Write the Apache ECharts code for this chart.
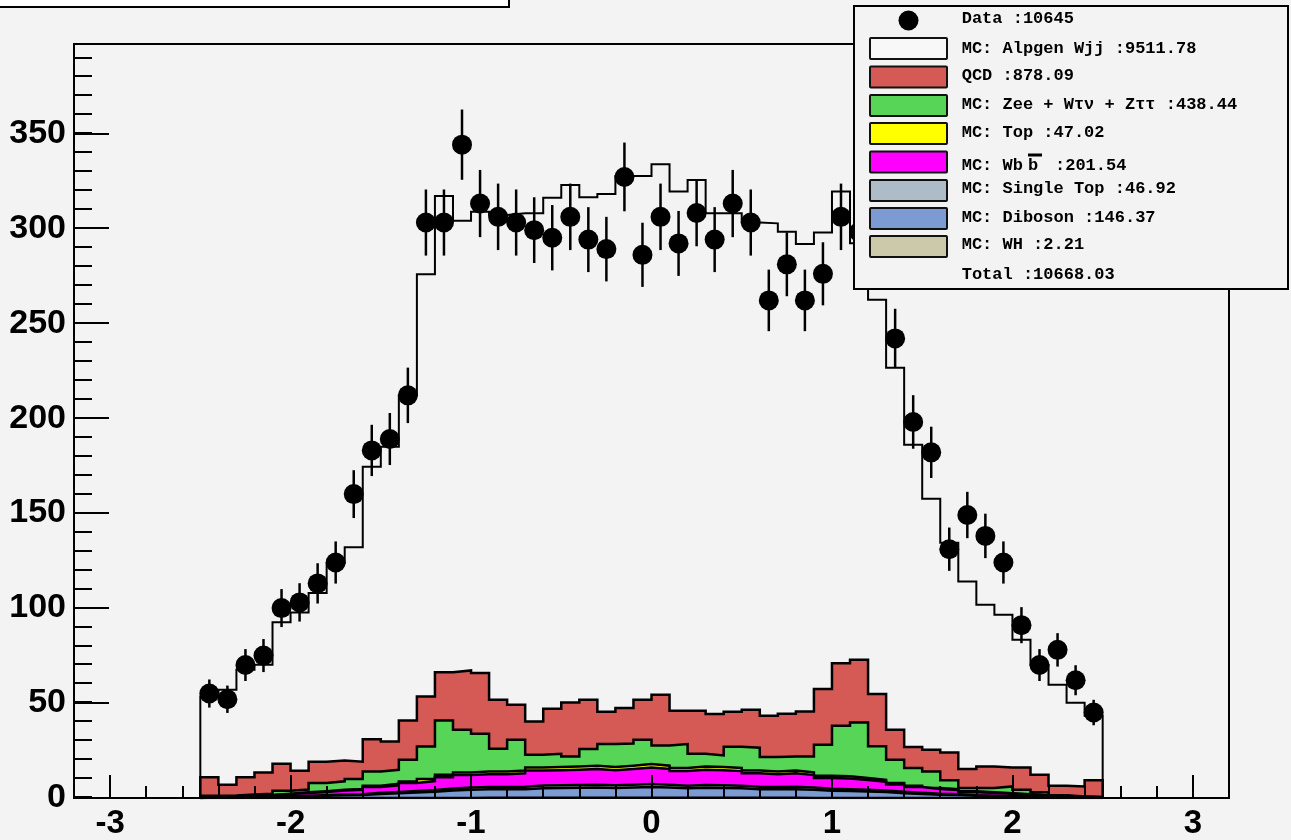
<!DOCTYPE html>
<html><head><meta charset="utf-8">
<script src="https://cdn.jsdelivr.net/npm/echarts@6/dist/echarts.min.js"></script>
<style>html,body{margin:0;padding:0;background:#f3f3f3;}#c{width:1291px;height:840px;}</style>
</head><body><div id="c"></div>
<script>
// ---- data ----
const binEdges = [-2.5,-2.4,-2.3,-2.2,-2.1,-2.0,-1.9,-1.8,-1.7,-1.6,-1.5,-1.4,-1.3,-1.2,-1.1,-1.0,-0.9,-0.8,-0.7,-0.6,-0.5,-0.4,-0.3,-0.2,-0.1,0.0,0.1,0.2,0.3,0.4,0.5,0.6,0.7,0.8,0.9,1.0,1.1,1.2,1.3,1.4,1.5,1.6,1.7,1.8,1.9,2.0,2.1,2.2,2.3,2.4,2.5];
const dataCounts = [55,52,70,75,100,103,113,124,160,183, 189,212,303,303,344,313,306,303,299,295, 306,294,289,327,286,306,292,308,294,313, 303,262,281,262,276,306,298,293,242,198, 182,131,149,138,124,91,70,78,62,45];
const dataErrors = [7.4,7.2,8.4,8.7,10,10.1,10.6,11.1,12.6,13.5, 13.7,14.6,17.4,17.4,18.5,17.7,17.5,17.4,17.3,17.2, 17.5,17.1,17,18.1,16.9,17.5,17.1,17.5,17.1,17.7, 17.4,16.2,16.8,16.2,16.6,17.5,17.3,17.1,15.6,14.1, 13.5,11.4,12.2,11.7,11.1,9.5,8.4,8.8,7.9,6.7];
const wh = [0.01,0.01,0.01,0.01,0.02,0.02,0.03,0.03,0.03,0.04, 0.04,0.05,0.05,0.06,0.06,0.07,0.07,0.07,0.08,0.08, 0.08,0.08,0.08,0.08,0.09,0.08,0.08,0.08,0.08,0.08, 0.07,0.07,0.07,0.06,0.06,0.05,0.05,0.05,0.04,0.03, 0.03,0.02,0.02,0.02,0.01,0.01,0.01,0.01,0.01,0.0];
const diboson = [0.25,0.3,0.38,0.5,0.72,0.95,1.15,1.4,1.55,2.1, 2.4,2.8,3.2,3.9,4.3,4.5,4.5,4.6,5.1,5.2, 5.3,5.4,5.2,5.4,5.7,5.4,5.0,5.3,5.2,5.0, 4.6,4.5,4.6,4.3,3.7,3.6,3.35,3.1,2.5,2.1, 1.7,1.5,1.1,0.95,0.8,0.64,0.48,0.32,0.19,0.13];
const singleTop = [0.07,0.08,0.1,0.14,0.2,0.26,0.32,0.38,0.42,0.58, 0.68,0.8,0.9,1.1,1.2,1.25,1.25,1.3,1.45,1.45, 1.5,1.5,1.45,1.5,1.6,1.5,1.4,1.5,1.45,1.4, 1.3,1.25,1.3,1.2,1.05,1.0,0.95,0.85,0.7,0.58, 0.48,0.42,0.32,0.27,0.22,0.18,0.14,0.09,0.05,0.04];
const wbb = [0.38,0.42,0.57,0.77,1.1,1.45,1.7,2.1,2.3,3.1, 3.55,4.2,4.75,5.9,6.5,6.7,6.7,7.0,7.8,7.9, 8.0,8.3,7.9,8.3,8.7,8.3,7.7,8.0,7.9,7.7, 7.0,6.7,7.0,6.5,5.7,5.6,5.1,4.6,3.85,3.1, 2.55,2.28,1.7,1.45,1.2,0.96,0.72,0.48,0.29,0.19];
const topQuark = [0.08,0.09,0.12,0.16,0.24,0.3,0.38,0.45,0.48,0.65, 0.78,0.9,1.05,1.3,1.4,1.45,1.45,1.5,1.65,1.65, 1.7,1.7,1.65,1.7,1.8,1.7,1.6,1.7,1.65,1.6, 1.5,1.45,1.5,1.4,1.2,1.15,1.05,1.0,0.8,0.68, 0.55,0.48,0.36,0.31,0.26,0.21,0.15,0.1,0.06,0.04];
const zee = [0.4,0.4,0.6,0.7,1.5,1.5,4.3,4.4,5.2,7.5, 7.4,11.4,17.2,28.5,22.5,19.8,11.9,16.2,6.7,7.0, 5.3,8.8,12.1,11.7,12.8,10.7,12.6,6.7,6.1,11.2, 12.0,7.6,7.4,8.4,16.3,26.6,29.3,17.6,12.3,9.3, 8.7,4.6,1.8,2.3,3.6,2.4,1.5,0.5,0.2,0.2];
const qcd = [9.8,5.7,9.2,11.2,14.2,9.9,11.2,11.0,9.1,17.0, 14.9,20.6,26.3,25.5,31.2,32.0,25.8,18.4,17.5,23.7, 28.4,25.9,17.0,18.7,21.0,26.7,17.5,22.6,21.8,18.4, 20.0,21.7,22.5,23.7,29.4,33.0,33.0,27.5,15.7,11.0, 11.4,14.7,10.0,11.3,10.0,11.7,9.3,5.0,5.3,8.7];
const alpgen = [42.5,50.0,56.5,56.7,74.6,83.3,88.9,104.0,112.9,143.5, 155.2,171.2,222.3,250.7,236.8,242.9,255.3,258.8,267.6,269.1, 272.5,264.6,272.6,280.1,275.8,279.3,273.4,279.5,263.7,262.5, 256.5,259.3,253.8,246.1,240.3,248.3,219.3,207.6,190.6,159.2, 132.1,110.4,98.7,85.1,80.4,67.2,57.7,53.1,44.1,34.0];
const xTickLabels = [-3,-2,-1,0,1,2,3];
const yTickStep = 50;

const legendTexts = ['Data :10645','MC: Alpgen Wjj :9511.78','QCD :878.09','MC: Zee + W\u03c4\u03bd + Z\u03c4\u03c4 :438.44','MC: Top :47.02','MC: Wb','MC: Single Top :46.92','MC: Diboson :146.37','MC: WH :2.21','Total :10668.03'];

// ---- styles ----
const BG = '#f3f3f3';
const stackDefs = [
  {name:'MC: WH', vals:wh, color:'#ccc8aa'},
  {name:'MC: Diboson', vals:diboson, color:'#7b9bd2'},
  {name:'MC: Single Top', vals:singleTop, color:'#adbcc6'},
  {name:'MC: Wbb', vals:wbb, color:'#ff00ff'},
  {name:'MC: Top', vals:topQuark, color:'#ffff00'},
  {name:'MC: Zee + Wtv + Ztt', vals:zee, color:'#57d557'},
  {name:'QCD', vals:qcd, color:'#d55a55'},
  {name:'MC: Alpgen Wjj', vals:alpgen, color:null}
];
const legendColors = [null,'#f8f8f8','#d55a55','#57d557','#ffff00','#ff00ff','#adbcc6','#7b9bd2','#ccc8aa',null];
const legendTextY = [18.5,48.3,76,104.3,132.7,165.7,189,217.3,245,275];
const legendBoxY = [null,38,66.5,95,123,151.5,180,208,236,null];

function stepData(vals){
  const d = [[binEdges[0],0]];
  vals.forEach((v,i)=>{ d.push([binEdges[i],v]); d.push([binEdges[i+1],v]); });
  d.push([binEdges[binEdges.length-1],0]);
  return d;
}
const binCenters = dataCounts.map((_,i)=>(binEdges[i]+binEdges[i+1])/2);

// cumulative stack table (THStack): each level filled down to zero, lower levels drawn on top
let running = binEdges.slice(1).map(()=>0);
const series = stackDefs.map((s,idx)=>{
  running = running.map((r,i)=>r + s.vals[i]);
  return {
    type:'line', name:s.name, xAxisIndex:0, yAxisIndex:0,
    data:stepData(running), symbol:'none', showSymbol:false, silent:true,
    lineStyle:{color:'#000', width: s.color ? 2.5 : 2, join:'miter'},
    areaStyle: s.color ? {color:s.color, opacity:1, origin:'start'} : undefined,
    z: 20 - idx, animation:false
  };
});
series.push({
  type:'custom', name:'err', xAxisIndex:0, yAxisIndex:0, silent:true, z:30,
  data: binCenters.map((c,i)=>[c, dataCounts[i], dataErrors[i]]),
  encode:{x:0, y:1},
  renderItem:(params, api)=>{
    const x = api.value(0), y = api.value(1), e = api.value(2);
    const p1 = api.coord([x, y-e]), p2 = api.coord([x, y+e]);
    return {type:'line', shape:{x1:p1[0], y1:p1[1], x2:p2[0], y2:p2[1]}, style:{stroke:'#000', lineWidth:2.5}};
  }
});
series.push({
  type:'scatter', name:'Data', xAxisIndex:0, yAxisIndex:0, silent:true, z:31,
  data: binCenters.map((c,i)=>[c, dataCounts[i]]),
  symbol:'circle', symbolSize:20, itemStyle:{color:'#000', opacity:1}
});

// ---- legend (graphic) ----
const LX = 854, LY = 6, LW = 434, LH = 283;
const gfx = [];
gfx.push({type:'rect', z:100, shape:{x:-3, y:-12, width:512, height:19}, style:{fill:'#ffffff', stroke:'#000', lineWidth:2}});
gfx.push({type:'rect', z:100, shape:{x:LX, y:LY, width:LW, height:LH}, style:{fill:BG, stroke:'#000', lineWidth:2}});
const legFont = 'bold 17px "Liberation Mono", "DejaVu Sans Mono", monospace';
legendTexts.forEach((t,i)=>{
  gfx.push({type:'text', z:102, x:961.7, y:legendTextY[i], style:{text:t, font:legFont, fill:'#000', verticalAlign:'middle', textVerticalAlign:'middle'}});
  if (legendColors[i]) {
    gfx.push({type:'rect', z:101, shape:{x:870, y:legendBoxY[i], width:77, height:21, r:1}, style:{fill:legendColors[i], stroke:'#111', lineWidth:2}});
  }
});
gfx.push({type:'circle', z:101, shape:{cx:908.5, cy:20.5, r:10}, style:{fill:'#000'}});
gfx.push({type:'text', z:102, x:1028, y:165.7, style:{text:'b', font:legFont, fill:'#000', verticalAlign:'middle', textVerticalAlign:'middle'}});
gfx.push({type:'rect', z:102, shape:{x:1028, y:153.5, width:14, height:3}, style:{fill:'#000'}});
gfx.push({type:'text', z:102, x:1055, y:165.7, style:{text:':201.54', font:legFont, fill:'#000', verticalAlign:'middle', textVerticalAlign:'middle'}});

const gridL = 74, gridR = 62, gridT = 44, gridB = 42;
const pxPerUnit = (1291 - gridL - gridR) / 6.4;
const axisFont = {fontFamily:'"Liberation Sans", Arial, sans-serif', fontWeight:'bold', color:'#000'};

const option = {
  animation:false,
  backgroundColor: BG,
  grid:[
    {left:gridL, right:gridR, top:gridT, bottom:gridB, show:true, backgroundColor:BG, borderColor:'#000', borderWidth:2},
    {left:gridL + 0.2*pxPerUnit, right:gridR + 0.2*pxPerUnit, top:gridT, bottom:gridB, show:false}
  ],
  xAxis:[
    {gridIndex:0, type:'value', min:-3.2, max:3.2, show:false},
    {gridIndex:1, type:'value', min:xTickLabels[0], max:xTickLabels[xTickLabels.length-1], interval:1, z:40,
     axisLine:{show:false, onZero:false}, splitLine:{show:false},
     axisTick:{show:true, inside:true, length:22, lineStyle:{color:'#000', width:2}},
     minorTick:{show:true, splitNumber:5, length:11, lineStyle:{color:'#000', width:2}},
     axisLabel:Object.assign({fontSize:33, margin:10}, axisFont)}
  ],
  yAxis:[
    {gridIndex:0, type:'value', min:0, max:397, interval:yTickStep, z:40,
     axisLine:{show:false, onZero:false}, splitLine:{show:false},
     axisTick:{show:true, inside:true, length:35, lineStyle:{color:'#000', width:2}},
     axisLabel:Object.assign({fontSize:34, margin:8, showMaxLabel:false}, axisFont)},
    {gridIndex:1, type:'value', min:0, max:397, interval:10, z:40, offset:0.2*pxPerUnit,
     axisLine:{show:false, onZero:false}, splitLine:{show:false},
     axisTick:{show:true, inside:true, length:18, lineStyle:{color:'#000', width:2}},
     axisLabel:{show:false}}
  ],
  series: series,
  graphic: gfx
};
const chart = echarts.init(document.getElementById('c'), null, {renderer:'canvas'});
chart.setOption(option);
</script></body></html>
